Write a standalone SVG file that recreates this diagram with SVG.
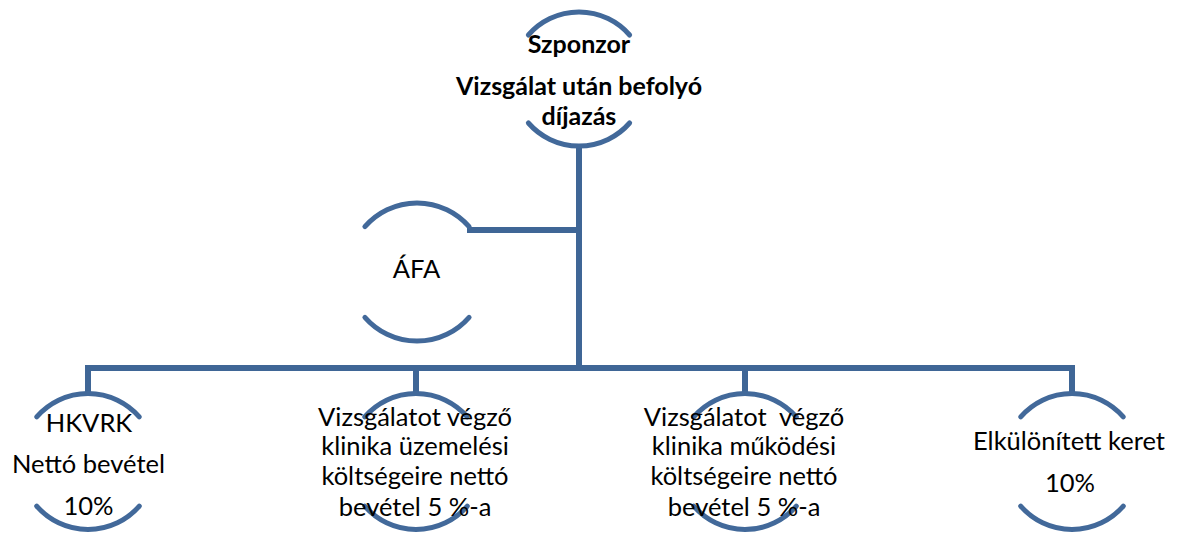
<svg xmlns="http://www.w3.org/2000/svg" width="1179" height="533" viewBox="0 0 1179 533">
<style>
.arc{fill:none;stroke:#42699A;stroke-width:5;stroke-linecap:round}
.con{fill:none;stroke:#3F6696;stroke-width:6;stroke-linecap:butt;stroke-linejoin:miter}
text{font-family:Lato,"Liberation Sans",sans-serif;font-size:25.5px;fill:#000;text-anchor:middle}
.b{font-weight:bold;font-size:25px}
</style>
<rect width="1179" height="533" fill="#fff"/>
<g id="connectors">
<path class="con" d="M579,145 V370"/>
<path class="con" d="M467,230 H579"/>
<path class="con" d="M88,395 V368 H1072 V395"/>
<path class="con" d="M416,368 V395"/>
<path class="con" d="M745,368 V395"/>
</g>
<g id="sponsor">
<path class="arc" d="M528.4,35 A67,67 0 0 1 629.6,35"/>
<path class="arc" d="M528.4,123 A67,67 0 0 0 629.6,123"/>
<text class="b" x="579" y="53">Szponzor</text>
<text class="b" x="579" y="95">Vizsgálat után befolyó</text>
<text class="b" x="579" y="125">díjazás</text>
</g>
<g id="afa">
<path class="arc" d="M364.9,226.7 A69,69 0 0 1 469.1,226.7"/>
<path class="arc" d="M364.9,317.3 A69,69 0 0 0 469.1,317.3"/>
<text x="416.5" y="278">ÁFA</text>
</g>
<g id="hkvrk">
<path class="arc" d="M36.7,416.9 A68,68 0 0 1 139.3,416.9"/>
<path class="arc" d="M36.7,506.1 A68,68 0 0 0 139.3,506.1"/>
<text x="89" y="432">HKVRK</text>
<text x="88.5" y="473">Nettó bevétel</text>
<text x="88.5" y="515">10%</text>
</g>
<g id="klinika-uzemelesi">
<path class="arc" d="M364.7,416.9 A68,68 0 0 1 467.3,416.9"/>
<path class="arc" d="M364.7,506.1 A68,68 0 0 0 467.3,506.1"/>
<text x="415" y="426">Vizsgálatot végző</text>
<text x="415" y="455">klinika üzemelési</text>
<text x="415" y="485">költségeire nettó</text>
<text x="415" y="516">bevétel 5 %-a</text>
</g>
<g id="klinika-mukodesi">
<path class="arc" d="M693.7,416.9 A68,68 0 0 1 796.3,416.9"/>
<path class="arc" d="M693.7,506.1 A68,68 0 0 0 796.3,506.1"/>
<text x="744" y="426" xml:space="preserve">Vizsgálatot  végző</text>
<text x="744" y="455">klinika működési</text>
<text x="744" y="485">költségeire nettó</text>
<text x="744" y="516">bevétel 5 %-a</text>
</g>
<g id="elkulonitett">
<path class="arc" d="M1020.7,416.9 A68,68 0 0 1 1123.3,416.9"/>
<path class="arc" d="M1020.7,506.1 A68,68 0 0 0 1123.3,506.1"/>
<text x="1069" y="450">Elkülönített keret</text>
<text x="1070" y="492">10%</text>
</g>
</svg>
